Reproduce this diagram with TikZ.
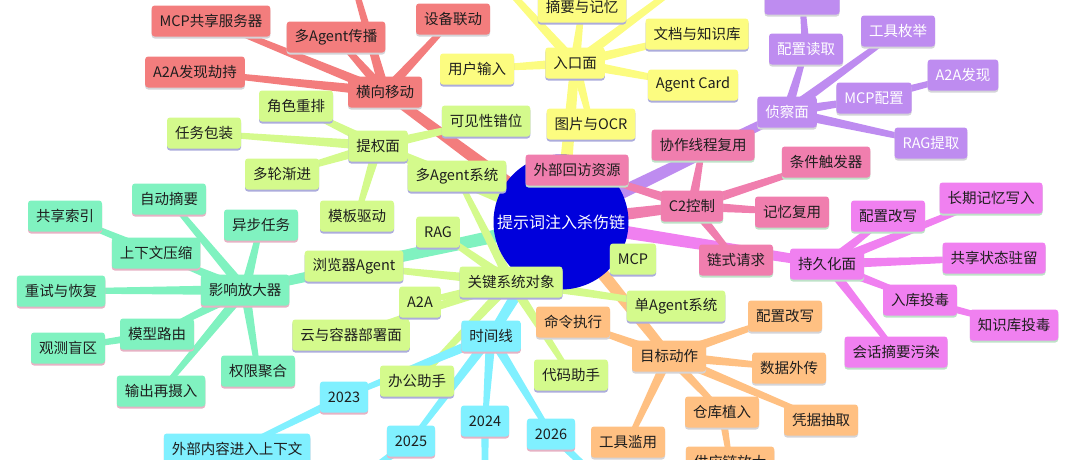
\documentclass[tikz,border=0pt]{standalone}
\usepackage{fontspec}
\newfontfamily\cjk{Noto Sans CJK SC}
\usetikzlibrary{calc}
\usetikzlibrary{shadows}
\definecolor{ink}{RGB}{30,30,30}
\definecolor{cYel}{RGB}{252,252,128}
\definecolor{cRed}{RGB}{243,125,125}
\definecolor{cLime}{RGB}{212,250,140}
\definecolor{cMint}{RGB}{128,242,192}
\definecolor{cPurp}{RGB}{190,140,240}
\definecolor{cPink}{RGB}{240,126,174}
\definecolor{cOrch}{RGB}{240,128,240}
\definecolor{cOrng}{RGB}{255,192,130}
\definecolor{cCyan}{RGB}{128,240,255}
\definecolor{cCore}{RGB}{0,0,220}
\definecolor{shLav}{RGB}{172,172,220}
\definecolor{shPnk}{RGB}{230,178,196}
\definecolor{shGrn}{RGB}{190,226,200}
\definecolor{shGry}{RGB}{212,212,216}
\pgfdeclarelayer{bg}
\pgfsetlayers{bg,main}
\tikzset{leaf/.style = {rounded corners=3pt, minimum height=31pt, inner xsep=8pt,
                        font=\cjk\fontsize{14.5}{17}\selectfont, text=ink},
         hub/.style = {circle, fill=cCore, minimum size=135pt, inner sep=0pt,
                       font=\cjk\fontsize{16}{18}\selectfont, text=white},
         entrybox/.style = {leaf, fill=cYel, general shadow={fill=shLav, shadow yshift=-2pt}},
         lateralbox/.style = {leaf, fill=cRed, general shadow={fill=shGry, shadow yshift=-2pt}},
         limebox/.style = {leaf, fill=cLime, general shadow={fill=shLav, shadow yshift=-2pt}},
         ampbox/.style = {leaf, fill=cMint, general shadow={fill=shPnk, shadow yshift=-2pt}},
         reconbox/.style = {leaf, fill=cPurp, text=white, general shadow={fill=shGry, shadow yshift=-2pt}},
         c2box/.style = {leaf, fill=cPink, general shadow={fill=shGrn, shadow yshift=-2pt}},
         persbox/.style = {leaf, fill=cOrch, general shadow={fill=shGrn, shadow yshift=-2pt}},
         actbox/.style = {leaf, fill=cOrng, general shadow={fill=shGry, shadow yshift=-2pt}},
         timebox/.style = {leaf, fill=cCyan, general shadow={fill=shPnk, shadow yshift=-2pt}}}
% tapered band from #2 to #3
\newcommand{\twig}[5]{\fill[#1] ($(#2.center)!#4!90:(#3.center)$) -- ($(#3.center)!#5!-90:(#2.center)$)
  -- ($(#3.center)!#5!90:(#2.center)$) -- ($(#2.center)!#4!-90:(#3.center)$) -- cycle;}

\begin{document}
\begin{tikzpicture}[x=1pt, y=-1pt]
  \useasboundingbox (0,0) rectangle (1080,459);
  \clip (0,0) rectangle (1080,459);

  \node [hub] (core) at (561,222) {提示词注入杀伤链};

  % entry surface
  \node [entrybox] (entry) at (575,63) {入口面};
  \node [entrybox] (ey1) at (582,7) {摘要与记忆};
  \node [entrybox] (ey2) at (697,34) {文档与知识库};
  \node [entrybox] (ey3) at (693,85) {Agent Card};
  \node [entrybox] (ey4) at (477,69) {用户输入};
  \node [entrybox] (ey5) at (591,124) {图片与OCR};
  \coordinate (eyA) at (490,-30);
  \coordinate (eyB) at (700,-30);

  % lateral movement
  \node [lateralbox] (lat) at (385,92) {横向移动};
  \node [lateralbox] (lr1) at (211,21) {MCP共享服务器};
  \node [lateralbox] (lr2) at (336,37) {多Agent传播};
  \node [lateralbox] (lr3) at (453,19) {设备联动};
  \node [lateralbox] (lr4) at (195,72) {A2A发现劫持};
  \coordinate (lrA) at (350,-30);

  % escalation
  \node [limebox] (esc) at (378,146) {提权面};
  \node [limebox] (pl1) at (296,106) {角色重排};
  \node [limebox] (pl2) at (204,133) {任务包装};
  \node [limebox] (pl3) at (282,174) {多轮渐进};
  \node [limebox] (pl4) at (357,216) {模板驱动};
  \node [limebox] (pl5) at (486,121) {可见性错位};

  % key system objects
  \node [limebox] (key) at (511,282) {关键系统对象};
  \node [limebox] (kl1) at (457,176) {多Agent系统};
  \node [limebox] (kl2) at (438,232) {RAG};
  \node [limebox] (kl3) at (354,266) {浏览器Agent};
  \node [limebox] (kl4) at (420,302) {A2A};
  \node [limebox] (kl5) at (351,335) {云与容器部署面};
  \node [limebox] (kl6) at (417,381) {办公助手};
  \node [limebox] (kl7) at (571,375) {代码助手};
  \node [limebox] (kl8) at (676,306) {单Agent系统};
  \node [limebox] (kl9) at (633,259) {MCP};

  % amplifiers
  \node [ampbox] (amp) at (245,290) {影响放大器};
  \node [ampbox] (am1) at (169,199) {自动摘要};
  \node [ampbox] (am2) at (156,253) {上下文压缩};
  \node [ampbox] (am3) at (65,216) {共享索引};
  \node [ampbox] (am4) at (261,225) {异步任务};
  \node [ampbox] (am5) at (61,291) {重试与恢复};
  \node [ampbox] (am6) at (157,334) {模型路由};
  \node [ampbox] (am7) at (68,348) {观测盲区};
  \node [ampbox] (am8) at (161,391) {输出再摄入};
  \node [ampbox] (am9) at (258,371) {权限聚合};

  % reconnaissance
  \node [reconbox] (rec) at (787,112) {侦察面};
  \node [reconbox, minimum width=75pt] (rp0) at (802,-1) {};
  \node [reconbox] (rp1) at (806,49) {配置读取};
  \node [reconbox] (rp2) at (898,31) {工具枚举};
  \node [reconbox] (rp3) at (874,98) {MCP配置};
  \node [reconbox] (rp4) at (963,75) {A2A发现};
  \node [reconbox] (rp5) at (931,143) {RAG提取};

  % C2
  \node [c2box] (cc) at (692,206) {C2控制};
  \node [c2box] (cp1) at (703,145) {协作线程复用};
  \node [c2box] (cp2) at (826,162) {条件触发器};
  \node [c2box] (cp3) at (792,212) {记忆复用};
  \node [c2box] (cp4) at (736,260) {链式请求};
  \node [c2box] (cp5) at (577,170) {外部回访资源};

  % persistence
  \node [persbox] (per) at (827,264) {持久化面};
  \node [persbox] (po1) at (888,216) {配置改写};
  \node [persbox] (po2) at (991,198) {长期记忆写入};
  \node [persbox] (po3) at (994,258) {共享状态驻留};
  \node [persbox] (po4) at (920,300) {入库投毒};
  \node [persbox] (po5) at (1014,325) {知识库投毒};
  \node [persbox] (po6) at (896,352) {会话摘要污染};

  % actions on target
  \node [actbox] (act) at (669,356) {目标动作};
  \node [actbox] (ao1) at (573,322) {命令执行};
  \node [actbox] (ao2) at (785,316) {配置改写};
  \node [actbox] (ao3) at (789,368) {数据外传};
  \node [actbox] (ao4) at (821,420) {凭据抽取};
  \node [actbox] (ao5) at (722,412) {仓库植入};
  \node [actbox] (ao6) at (628,442) {工具滥用};
  \node [actbox] (ao7) at (730,462) {供应链放大};

  % timeline
  \node [timebox] (tl) at (491,336) {时间线};
  \node [timebox] (tc1) at (344,397) {2023};
  \node [timebox] (tc2) at (485,421) {2024};
  \node [timebox] (tc3) at (411,441) {2025};
  \node [timebox] (tc4) at (551,434) {2026};
  \node [timebox] (tc5) at (237,449) {外部内容进入上下文};
  \coordinate (tcA) at (330,500);
  \coordinate (tcB) at (485,500);
  \coordinate (tcC) at (620,500);

  \begin{pgfonlayer}{bg}
    \twig{cYel}{core}{entry}{7pt}{4.5pt}
    \twig{cRed}{core}{lat}{7pt}{4.5pt}
    \twig{cLime}{core}{esc}{7pt}{4.5pt}
    \twig{cLime}{core}{key}{7pt}{4.5pt}
    \twig{cMint}{core}{amp}{7pt}{4.5pt}
    \twig{cPurp}{core}{rec}{7pt}{4.5pt}
    \twig{cPink}{core}{cc}{7pt}{4.5pt}
    \twig{cOrch}{core}{per}{7pt}{4.5pt}
    \twig{cOrng}{core}{act}{7pt}{4.5pt}
    \twig{cCyan}{core}{tl}{7pt}{4.5pt}
    \foreach \k in {ey1,ey2,ey3,ey4,ey5,eyA,eyB} {\twig{cYel}{entry}{\k}{5pt}{2.5pt}}
    \foreach \k in {lr1,lr2,lr3,lr4,lrA} {\twig{cRed}{lat}{\k}{5pt}{2.5pt}}
    \foreach \k in {pl1,pl2,pl3,pl4,pl5} {\twig{cLime}{esc}{\k}{5pt}{2.5pt}}
    \foreach \k in {kl1,kl2,kl3,kl4,kl5,kl6,kl7,kl8,kl9} {\twig{cLime}{key}{\k}{5pt}{2.5pt}}
    \foreach \k in {am1,am2,am4,am5,am6,am8,am9} {\twig{cMint}{amp}{\k}{5pt}{2.5pt}}
    \twig{cMint}{am2}{am3}{4pt}{2.5pt}
    \twig{cMint}{am6}{am7}{4pt}{2.5pt}
    \foreach \k in {rp1,rp2,rp3,rp5} {\twig{cPurp}{rec}{\k}{5pt}{2.5pt}}
    \twig{cPurp}{rp1}{rp0}{4pt}{2.5pt}
    \twig{cPurp}{rp3}{rp4}{4pt}{2.5pt}
    \foreach \k in {cp1,cp2,cp3,cp4,cp5} {\twig{cPink}{cc}{\k}{5pt}{2.5pt}}
    \foreach \k in {po1,po2,po3,po4,po6} {\twig{cOrch}{per}{\k}{5pt}{2.5pt}}
    \twig{cOrch}{po4}{po5}{4pt}{2.5pt}
    \foreach \k in {ao1,ao2,ao3,ao4,ao5,ao6} {\twig{cOrng}{act}{\k}{5pt}{2.5pt}}
    \twig{cOrng}{ao5}{ao7}{4pt}{2.5pt}
    \foreach \k in {tc1,tc2,tc3,tc4} {\twig{cCyan}{tl}{\k}{5pt}{2.5pt}}
    \twig{cCyan}{tc1}{tc5}{4pt}{2.5pt}
    \twig{cCyan}{tc3}{tcA}{4pt}{2.5pt}
    \twig{cCyan}{tc2}{tcB}{4pt}{2.5pt}
    \twig{cCyan}{tc4}{tcC}{4pt}{2.5pt}
  \end{pgfonlayer}
\end{tikzpicture}
\end{document}
